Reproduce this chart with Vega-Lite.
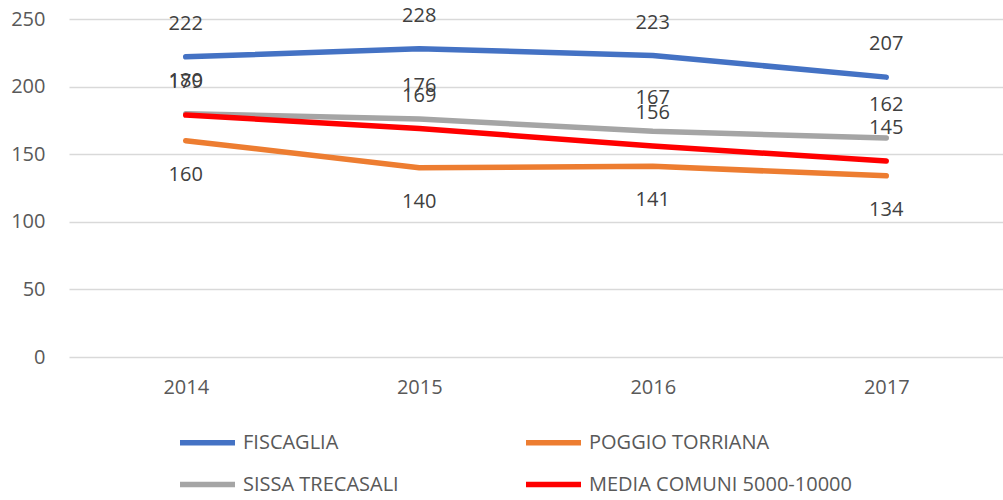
{
  "$schema": "https://vega.github.io/schema/vega-lite/v6.json",
  "width": 934,
  "height": 338,
  "autosize": {"type": "none"},
  "padding": {"top": 19, "left": 69, "right": 0, "bottom": 143},
  "background": "white",
  "config": {"view": {"stroke": null}, "font": "Open Sans"},
  "data": {"values": [
    {"anno": "2014", "serie": "FISCAGLIA", "valore": 222},
    {"anno": "2015", "serie": "FISCAGLIA", "valore": 228},
    {"anno": "2016", "serie": "FISCAGLIA", "valore": 223},
    {"anno": "2017", "serie": "FISCAGLIA", "valore": 207},
    {"anno": "2014", "serie": "POGGIO TORRIANA", "valore": 160},
    {"anno": "2015", "serie": "POGGIO TORRIANA", "valore": 140},
    {"anno": "2016", "serie": "POGGIO TORRIANA", "valore": 141},
    {"anno": "2017", "serie": "POGGIO TORRIANA", "valore": 134},
    {"anno": "2014", "serie": "SISSA TRECASALI", "valore": 180},
    {"anno": "2015", "serie": "SISSA TRECASALI", "valore": 176},
    {"anno": "2016", "serie": "SISSA TRECASALI", "valore": 167},
    {"anno": "2017", "serie": "SISSA TRECASALI", "valore": 162},
    {"anno": "2014", "serie": "MEDIA COMUNI 5000-10000", "valore": 179},
    {"anno": "2015", "serie": "MEDIA COMUNI 5000-10000", "valore": 169},
    {"anno": "2016", "serie": "MEDIA COMUNI 5000-10000", "valore": 156},
    {"anno": "2017", "serie": "MEDIA COMUNI 5000-10000", "valore": 145}
  ]},
  "encoding": {
    "x": {"field": "anno", "type": "ordinal", "scale": {"type": "point", "padding": 0.5},
      "axis": {"title": null, "labelAngle": 0, "domain": false, "ticks": false, "labelPadding": 20, "labelFontSize": 20, "labelColor": "#595959", "labelFont": "Open Sans"}},
    "y": {"field": "valore", "type": "quantitative", "scale": {"domain": [0, 250]},
      "axis": {"title": null, "values": [0, 50, 100, 150, 200, 250], "domain": false, "ticks": false, "labelPadding": 24, "labelFontSize": 20, "labelColor": "#595959", "gridColor": "#d9d9d9", "gridWidth": 1.5, "labelFont": "Open Sans"}}
  },
  "layer": [
    {
      "mark": {"type": "line", "strokeWidth": 5.5, "strokeCap": "round", "strokeJoin": "round"},
      "encoding": {
        "color": {"field": "serie", "type": "nominal",
          "scale": {"domain": ["FISCAGLIA", "POGGIO TORRIANA", "SISSA TRECASALI", "MEDIA COMUNI 5000-10000"], "range": ["#4472C4", "#ED7D31", "#A5A5A5", "#FF0000"]},
          "legend": {"title": null, "orient": "none", "legendX": 108, "legendY": 393, "direction": "horizontal", "columns": 2, "symbolType": "stroke", "symbolSize": 3025, "symbolStrokeWidth": 5.5, "labelFontSize": 20, "labelFont": "Open Sans", "labelColor": "#595959", "labelOffset": 5, "columnPadding": 116, "rowPadding": -5, "labelLimit": 400}},
        "order": {"value": 0}
      }
    },
    {
      "transform": [{"filter": "datum.serie !== 'POGGIO TORRIANA'"}],
      "mark": {"type": "text", "dy": -33, "fontSize": 20, "color": "#404040", "font": "Open Sans"},
      "encoding": {"text": {"field": "valore", "type": "quantitative"}}
    },
    {
      "transform": [{"filter": "datum.serie === 'POGGIO TORRIANA'"}],
      "mark": {"type": "text", "dy": 34, "fontSize": 20, "color": "#404040", "font": "Open Sans"},
      "encoding": {"text": {"field": "valore", "type": "quantitative"}}
    }
  ]
}
